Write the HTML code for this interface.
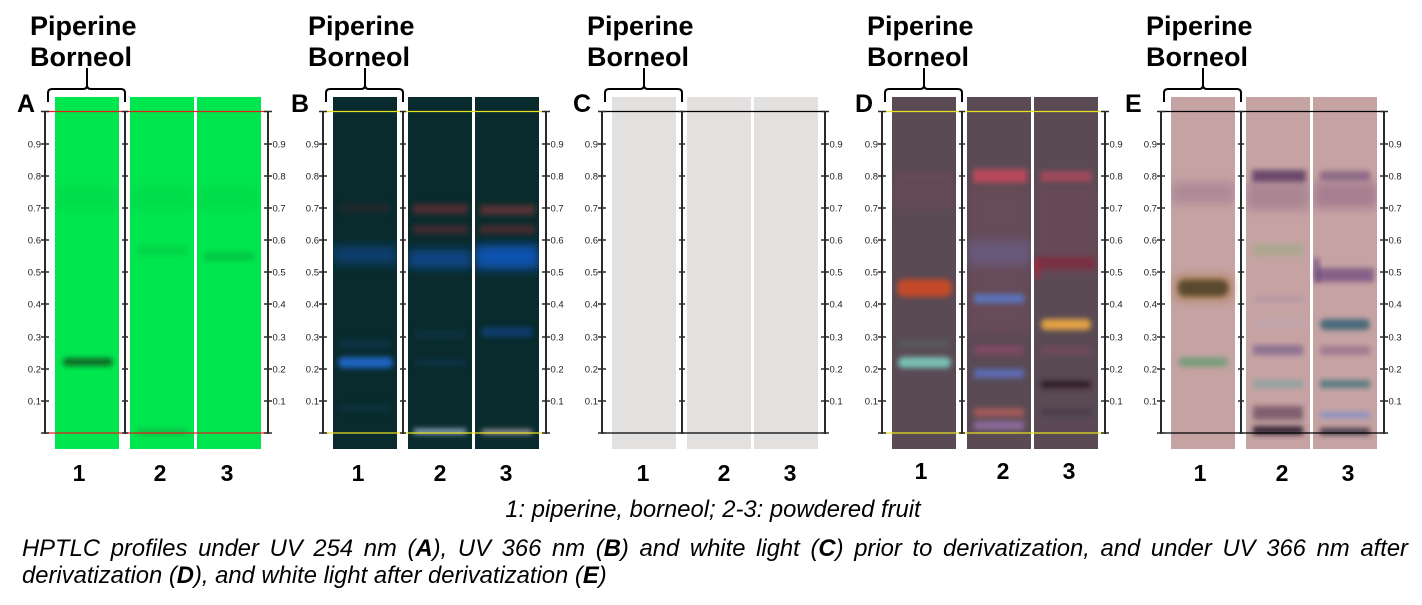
<!DOCTYPE html>
<html><head><meta charset="utf-8">
<style>
html,body{margin:0;padding:0;background:#fff;}
body{width:1422px;height:605px;position:relative;overflow:hidden;font-family:"Liberation Sans",Arial,sans-serif;}
svg{position:absolute;left:0;top:0;}
.cap{position:absolute;left:22px;width:1386px;font-style:italic;font-size:23.8px;line-height:27px;color:#000;white-space:nowrap;}
.j{text-align:justify;text-align-last:justify;white-space:normal;}
</style></head>
<body>
<svg width="1422" height="605" viewBox="0 0 1422 605" xmlns="http://www.w3.org/2000/svg" font-family="Liberation Sans, Arial, sans-serif">
<defs>
<filter id="b" x="-30%" y="-200%" width="160%" height="500%"><feGaussianBlur stdDeviation="2.6"/></filter>
<filter id="b2" x="-30%" y="-200%" width="160%" height="500%"><feGaussianBlur stdDeviation="5"/></filter>
<clipPath id="c1" clipPathUnits="userSpaceOnUse"><rect x="55" y="97" width="64" height="352"/></clipPath>
<clipPath id="c2" clipPathUnits="userSpaceOnUse"><rect x="130" y="97" width="64" height="352"/></clipPath>
<clipPath id="c3" clipPathUnits="userSpaceOnUse"><rect x="197" y="97" width="64" height="352"/></clipPath>
</defs>

<!-- ================= PANEL A ================= -->
<g>
<rect x="55" y="97" width="64" height="352" fill="#00e64e"/>
<rect x="130" y="97" width="64" height="352" fill="#00e64e"/>
<rect x="197" y="97" width="64" height="352" fill="#00e64e"/>
<rect x="55" y="186" width="64" height="24" fill="#00c845" opacity=".3" filter="url(#b2)" clip-path="url(#c1)"/>
<rect x="130" y="186" width="64" height="24" fill="#00c845" opacity=".3" filter="url(#b2)" clip-path="url(#c2)"/>
<rect x="197" y="186" width="64" height="24" fill="#00c845" opacity=".3" filter="url(#b2)" clip-path="url(#c3)"/>
<rect x="63" y="358" width="50" height="8" rx="4" fill="#086a28" filter="url(#b)"/>
<rect x="137" y="246" width="50" height="9" fill="#00c040" opacity=".45" filter="url(#b)"/>
<rect x="204" y="252" width="50" height="9" fill="#02b03c" opacity=".55" filter="url(#b)"/>
<rect x="137" y="429" width="50" height="6" fill="#1a8a3a" opacity=".45" filter="url(#b)"/>
</g>

<!-- ================= PANEL B ================= -->
<g transform="translate(278,0)">
<rect x="55" y="97" width="64" height="352" fill="#0a2b2d"/>
<rect x="130" y="97" width="64" height="352" fill="#0a2b2d"/>
<rect x="197" y="97" width="64" height="352" fill="#0a2b2d"/>
<rect x="55" y="246" width="64" height="18" fill="#0c4585" opacity=".75" filter="url(#b2)" clip-path="url(#c1)"/>
<rect x="60" y="357" width="55" height="11" rx="5" fill="#1d63c0" filter="url(#b)"/>
<rect x="62" y="340" width="50" height="8" fill="#0f3d60" opacity=".5" filter="url(#b)"/>
<rect x="62" y="204" width="50" height="8" fill="#3a2a2c" opacity=".45" filter="url(#b)"/>
<rect x="62" y="405" width="50" height="6" fill="#0f3d55" opacity=".5" filter="url(#b)"/>
<rect x="135" y="204" width="55" height="10" fill="#5a2f33" opacity=".85" filter="url(#b)"/>
<rect x="135" y="225" width="55" height="9" fill="#4a2c30" opacity=".85" filter="url(#b)"/>
<rect x="130" y="250" width="64" height="18" fill="#0a4688" filter="url(#b2)" clip-path="url(#c2)"/>
<rect x="137" y="331" width="50" height="7" fill="#0f3a5a" opacity=".5" filter="url(#b)"/>
<rect x="137" y="359" width="50" height="7" fill="#0f3a58" opacity=".5" filter="url(#b)"/>
<rect x="136" y="429" width="52" height="5" fill="#9ab4d0" filter="url(#b)"/>
<rect x="202" y="205" width="55" height="10" fill="#553034" filter="url(#b)"/>
<rect x="202" y="225" width="55" height="9" fill="#45292d" filter="url(#b)"/>
<rect x="197" y="245" width="64" height="24" fill="#0b52b0" filter="url(#b2)" clip-path="url(#c3)"/>
<rect x="204" y="327" width="50" height="10" fill="#0c3f78" opacity=".85" filter="url(#b)"/>
<rect x="204" y="430" width="50" height="4" fill="#c0b0c0" filter="url(#b)"/>
</g>

<!-- ================= PANEL C ================= -->
<g transform="translate(557,0)">
<rect x="55" y="97" width="64" height="352" fill="#e3e1df"/>
<rect x="130" y="97" width="64" height="352" fill="#e3e1df"/>
<rect x="197" y="97" width="64" height="352" fill="#e3e1df"/>
</g>

<!-- ================= PANEL D ================= -->
<g transform="translate(837,0)">
<rect x="55" y="97" width="64" height="352" fill="#594a54"/>
<rect x="130" y="97" width="64" height="352" fill="#594a54"/>
<rect x="197" y="97" width="64" height="352" fill="#594a54"/>
<rect x="55" y="182" width="64" height="26" fill="#6e4a56" opacity=".55" filter="url(#b2)" clip-path="url(#c1)"/>
<rect x="58" y="171" width="58" height="10" fill="#74485a" opacity=".45" filter="url(#b)"/>
<rect x="60" y="279" width="55" height="18" rx="8" fill="#c24a2a" filter="url(#b)"/>
<rect x="61" y="357" width="53" height="11" rx="5" fill="#78c0b4" filter="url(#b)"/>
<rect x="62" y="340" width="50" height="7" fill="#5a6c68" opacity=".5" filter="url(#b)"/>
<rect x="130" y="185" width="64" height="150" fill="#744e5c" opacity=".5" filter="url(#b2)" clip-path="url(#c2)"/>
<rect x="136" y="169" width="54" height="14" fill="#b84a5c" filter="url(#b)"/>
<rect x="130" y="240" width="64" height="26" fill="#6a6290" opacity=".6" filter="url(#b2)" clip-path="url(#c2)"/>
<rect x="137" y="294" width="50" height="9" fill="#5a74bc" filter="url(#b)"/>
<rect x="137" y="345" width="50" height="10" fill="#7e4a60" filter="url(#b)"/>
<rect x="137" y="369" width="50" height="9" fill="#5c6cb4" filter="url(#b)"/>
<rect x="137" y="408" width="50" height="9" fill="#a25a5a" filter="url(#b)"/>
<rect x="137" y="421" width="50" height="9" fill="#8a6a9a" filter="url(#b)"/>
<rect x="197" y="185" width="64" height="90" fill="#744a58" opacity=".5" filter="url(#b2)" clip-path="url(#c3)"/>
<rect x="203" y="171" width="52" height="11" fill="#a64a5c" opacity=".9" filter="url(#b)"/>
<rect x="200" y="257" width="58" height="12" fill="#7e2c3e" opacity=".85" filter="url(#b)"/>
<rect x="197" y="260" width="6" height="18" fill="#b02838" opacity=".7" filter="url(#b)" clip-path="url(#c3)"/>
<rect x="204" y="319" width="50" height="11" rx="5" fill="#e2a244" filter="url(#b)"/>
<rect x="204" y="346" width="50" height="9" fill="#704a5a" filter="url(#b)"/>
<rect x="204" y="381" width="50" height="7" fill="#2e1a26" filter="url(#b)"/>
<rect x="204" y="409" width="50" height="6" fill="#4a3a46" filter="url(#b)"/>
<rect x="204" y="422" width="50" height="6" fill="#5e4656" filter="url(#b)"/>
</g>

<!-- ================= PANEL E ================= -->
<g transform="translate(1116,0)">
<rect x="55" y="97" width="64" height="352" fill="#c6a3a3"/>
<rect x="130" y="97" width="64" height="352" fill="#c6a3a3"/>
<rect x="197" y="97" width="64" height="352" fill="#c6a3a3"/>
<rect x="55" y="182" width="64" height="22" fill="#a67e92" opacity=".7" filter="url(#b2)" clip-path="url(#c1)"/>
<rect x="60" y="276" width="55" height="24" fill="#a87848" opacity=".8" filter="url(#b2)"/>
<rect x="62" y="280" width="50" height="16" rx="7" fill="#5a4a2e" filter="url(#b)"/>
<rect x="62" y="357" width="50" height="10" rx="5" fill="#7c9c7c" filter="url(#b)"/>
<rect x="130" y="182" width="64" height="28" fill="#9e7a8c" opacity=".7" filter="url(#b2)" clip-path="url(#c2)"/>
<rect x="136" y="170" width="54" height="12" fill="#6a4a6c" filter="url(#b)"/>
<rect x="137" y="244" width="50" height="12" fill="#a8a88e" opacity=".85" filter="url(#b)"/>
<rect x="137" y="296" width="50" height="6" fill="#b898a4" filter="url(#b)"/>
<rect x="137" y="320" width="50" height="5" fill="#bca6b0" filter="url(#b)"/>
<rect x="137" y="345" width="50" height="10" fill="#8e7292" filter="url(#b)"/>
<rect x="137" y="380" width="50" height="8" fill="#94a2a2" filter="url(#b)"/>
<rect x="137" y="406" width="50" height="14" fill="#80606e" filter="url(#b)"/>
<rect x="137" y="426" width="50" height="9" fill="#3a2c3a" filter="url(#b)"/>
<rect x="197" y="182" width="64" height="26" fill="#9a6e88" opacity=".7" filter="url(#b2)" clip-path="url(#c3)"/>
<rect x="204" y="171" width="50" height="10" fill="#8e6a86" filter="url(#b)"/>
<rect x="200" y="268" width="58" height="14" fill="#7a5684" opacity=".85" filter="url(#b)"/>
<rect x="197" y="258" width="7" height="24" fill="#5a3878" opacity=".55" filter="url(#b)" clip-path="url(#c3)"/>
<rect x="204" y="319" width="50" height="11" rx="5" fill="#4a6a7a" filter="url(#b)"/>
<rect x="204" y="346" width="50" height="9" fill="#a27a92" filter="url(#b)"/>
<rect x="204" y="380" width="50" height="8" fill="#5a7c82" filter="url(#b)"/>
<rect x="204" y="412" width="50" height="6" fill="#8a92c4" filter="url(#b)"/>
<rect x="204" y="428" width="50" height="7" fill="#4a3c4c" filter="url(#b)"/>
</g>

<!-- Panel A axes -->
<g>
<line x1="46" y1="111.5" x2="268" y2="111.5" stroke="#e02020" stroke-width="1.2"/>
<line x1="46" y1="433" x2="268" y2="433" stroke="#e02020" stroke-width="1.2"/>
<g stroke="#2a2a2a" stroke-width="2"><line x1="45" y1="111" x2="45" y2="434"/><line x1="125" y1="111" x2="125" y2="434"/><line x1="268" y1="111" x2="268" y2="434"/></g>
<g stroke="#2a2a2a" stroke-width="1.5">
<path d="M41 111.5H49M41 144H49M41 176H49M41 208H49M41 240H49M41 272H49M41 304H49M41 337H49M41 369H49M41 401H49M41 433H49"/>
<path d="M122 111.5H128M122 144H128M122 176H128M122 208H128M122 240H128M122 272H128M122 304H128M122 337H128M122 369H128M122 401H128M122 433H128"/>
<path d="M264 111.5H272M264 144H272M264 176H272M264 208H272M264 240H272M264 272H272M264 304H272M264 337H272M264 369H272M264 401H272M264 433H272"/>
</g>
<g font-size="9.5" fill="#222" text-anchor="end">
<text x="41" y="147.5">0.9</text><text x="41" y="179.5">0.8</text><text x="41" y="211.5">0.7</text><text x="41" y="243.5">0.6</text><text x="41" y="275.5">0.5</text><text x="41" y="307.5">0.4</text><text x="41" y="340.5">0.3</text><text x="41" y="372.5">0.2</text><text x="41" y="404.5">0.1</text>
</g>
<g font-size="9.5" fill="#222">
<text x="272.5" y="147.5">0.9</text><text x="272.5" y="179.5">0.8</text><text x="272.5" y="211.5">0.7</text><text x="272.5" y="243.5">0.6</text><text x="272.5" y="275.5">0.5</text><text x="272.5" y="307.5">0.4</text><text x="272.5" y="340.5">0.3</text><text x="272.5" y="372.5">0.2</text><text x="272.5" y="404.5">0.1</text>
</g>
<path d="M48 102V93Q48 89 52 89H83Q87 89 87 85V68M87 85Q87 89 91 89H121Q125 89 125 93V102" stroke="#000" stroke-width="2" fill="none"/>
<g font-weight="bold" font-size="27" fill="#000"><text x="30" y="35">Piperine</text><text x="30" y="66">Borneol</text></g>
<g font-weight="bold" font-size="23" text-anchor="middle"><text x="79" y="481">1</text><text x="160" y="481">2</text><text x="227" y="481">3</text></g>
</g>

<!-- Panel B axes -->
<g transform="translate(278,0)">
<line x1="46" y1="111.5" x2="268" y2="111.5" stroke="#e8e020" stroke-width="1.3"/>
<line x1="46" y1="433" x2="268" y2="433" stroke="#e8e020" stroke-width="1.3"/>
<g stroke="#2a2a2a" stroke-width="2"><line x1="45" y1="111" x2="45" y2="434"/><line x1="125" y1="111" x2="125" y2="434"/><line x1="268" y1="111" x2="268" y2="434"/></g>
<g stroke="#2a2a2a" stroke-width="1.5">
<path d="M41 111.5H49M41 144H49M41 176H49M41 208H49M41 240H49M41 272H49M41 304H49M41 337H49M41 369H49M41 401H49M41 433H49"/>
<path d="M122 111.5H128M122 144H128M122 176H128M122 208H128M122 240H128M122 272H128M122 304H128M122 337H128M122 369H128M122 401H128M122 433H128"/>
<path d="M264 111.5H272M264 144H272M264 176H272M264 208H272M264 240H272M264 272H272M264 304H272M264 337H272M264 369H272M264 401H272M264 433H272"/>
</g>
<g font-size="9.5" fill="#222" text-anchor="end">
<text x="41" y="147.5">0.9</text><text x="41" y="179.5">0.8</text><text x="41" y="211.5">0.7</text><text x="41" y="243.5">0.6</text><text x="41" y="275.5">0.5</text><text x="41" y="307.5">0.4</text><text x="41" y="340.5">0.3</text><text x="41" y="372.5">0.2</text><text x="41" y="404.5">0.1</text>
</g>
<g font-size="9.5" fill="#222">
<text x="272.5" y="147.5">0.9</text><text x="272.5" y="179.5">0.8</text><text x="272.5" y="211.5">0.7</text><text x="272.5" y="243.5">0.6</text><text x="272.5" y="275.5">0.5</text><text x="272.5" y="307.5">0.4</text><text x="272.5" y="340.5">0.3</text><text x="272.5" y="372.5">0.2</text><text x="272.5" y="404.5">0.1</text>
</g>
<path d="M48 102V93Q48 89 52 89H83Q87 89 87 85V68M87 85Q87 89 91 89H121Q125 89 125 93V102" stroke="#000" stroke-width="2" fill="none"/>
<g font-weight="bold" font-size="27" fill="#000"><text x="30" y="35">Piperine</text><text x="30" y="66">Borneol</text></g>
<g font-weight="bold" font-size="23" text-anchor="middle"><text x="80" y="481">1</text><text x="162" y="481">2</text><text x="228" y="481">3</text></g>
</g>

<!-- Panel C axes -->
<g transform="translate(557,0)">
<line x1="46" y1="111.5" x2="268" y2="111.5" stroke="#000" stroke-width="1.2"/>
<line x1="46" y1="433" x2="268" y2="433" stroke="#000" stroke-width="1.2"/>
<g stroke="#2a2a2a" stroke-width="2"><line x1="45" y1="111" x2="45" y2="434"/><line x1="125" y1="111" x2="125" y2="434"/><line x1="268" y1="111" x2="268" y2="434"/></g>
<g stroke="#2a2a2a" stroke-width="1.5">
<path d="M41 111.5H49M41 144H49M41 176H49M41 208H49M41 240H49M41 272H49M41 304H49M41 337H49M41 369H49M41 401H49M41 433H49"/>
<path d="M122 111.5H128M122 144H128M122 176H128M122 208H128M122 240H128M122 272H128M122 304H128M122 337H128M122 369H128M122 401H128M122 433H128"/>
<path d="M264 111.5H272M264 144H272M264 176H272M264 208H272M264 240H272M264 272H272M264 304H272M264 337H272M264 369H272M264 401H272M264 433H272"/>
</g>
<g font-size="9.5" fill="#222" text-anchor="end">
<text x="41" y="147.5">0.9</text><text x="41" y="179.5">0.8</text><text x="41" y="211.5">0.7</text><text x="41" y="243.5">0.6</text><text x="41" y="275.5">0.5</text><text x="41" y="307.5">0.4</text><text x="41" y="340.5">0.3</text><text x="41" y="372.5">0.2</text><text x="41" y="404.5">0.1</text>
</g>
<g font-size="9.5" fill="#222">
<text x="272.5" y="147.5">0.9</text><text x="272.5" y="179.5">0.8</text><text x="272.5" y="211.5">0.7</text><text x="272.5" y="243.5">0.6</text><text x="272.5" y="275.5">0.5</text><text x="272.5" y="307.5">0.4</text><text x="272.5" y="340.5">0.3</text><text x="272.5" y="372.5">0.2</text><text x="272.5" y="404.5">0.1</text>
</g>
<path d="M48 102V93Q48 89 52 89H83Q87 89 87 85V68M87 85Q87 89 91 89H121Q125 89 125 93V102" stroke="#000" stroke-width="2" fill="none"/>
<g font-weight="bold" font-size="27" fill="#000"><text x="30" y="35">Piperine</text><text x="30" y="66">Borneol</text></g>
<g font-weight="bold" font-size="23" text-anchor="middle"><text x="86" y="481">1</text><text x="167" y="481">2</text><text x="233" y="481">3</text></g>
</g>

<!-- Panel D axes -->
<g transform="translate(837,0)">
<line x1="46" y1="111.5" x2="268" y2="111.5" stroke="#e8e020" stroke-width="1.3"/>
<line x1="46" y1="433" x2="268" y2="433" stroke="#e8e020" stroke-width="1.3"/>
<g stroke="#2a2a2a" stroke-width="2"><line x1="45" y1="111" x2="45" y2="434"/><line x1="125" y1="111" x2="125" y2="434"/><line x1="268" y1="111" x2="268" y2="434"/></g>
<g stroke="#2a2a2a" stroke-width="1.5">
<path d="M41 111.5H49M41 144H49M41 176H49M41 208H49M41 240H49M41 272H49M41 304H49M41 337H49M41 369H49M41 401H49M41 433H49"/>
<path d="M122 111.5H128M122 144H128M122 176H128M122 208H128M122 240H128M122 272H128M122 304H128M122 337H128M122 369H128M122 401H128M122 433H128"/>
<path d="M264 111.5H272M264 144H272M264 176H272M264 208H272M264 240H272M264 272H272M264 304H272M264 337H272M264 369H272M264 401H272M264 433H272"/>
</g>
<g font-size="9.5" fill="#222" text-anchor="end">
<text x="41" y="147.5">0.9</text><text x="41" y="179.5">0.8</text><text x="41" y="211.5">0.7</text><text x="41" y="243.5">0.6</text><text x="41" y="275.5">0.5</text><text x="41" y="307.5">0.4</text><text x="41" y="340.5">0.3</text><text x="41" y="372.5">0.2</text><text x="41" y="404.5">0.1</text>
</g>
<g font-size="9.5" fill="#222">
<text x="272.5" y="147.5">0.9</text><text x="272.5" y="179.5">0.8</text><text x="272.5" y="211.5">0.7</text><text x="272.5" y="243.5">0.6</text><text x="272.5" y="275.5">0.5</text><text x="272.5" y="307.5">0.4</text><text x="272.5" y="340.5">0.3</text><text x="272.5" y="372.5">0.2</text><text x="272.5" y="404.5">0.1</text>
</g>
<path d="M48 102V93Q48 89 52 89H83Q87 89 87 85V68M87 85Q87 89 91 89H121Q125 89 125 93V102" stroke="#000" stroke-width="2" fill="none"/>
<g font-weight="bold" font-size="27" fill="#000"><text x="30" y="35">Piperine</text><text x="30" y="66">Borneol</text></g>
<g font-weight="bold" font-size="23" text-anchor="middle"><text x="84" y="479">1</text><text x="166" y="479">2</text><text x="232" y="479">3</text></g>
</g>

<!-- Panel E axes -->
<g transform="translate(1116,0)">
<line x1="46" y1="111.5" x2="268" y2="111.5" stroke="#000" stroke-width="1.2"/>
<line x1="46" y1="433" x2="268" y2="433" stroke="#000" stroke-width="1.2"/>
<g stroke="#2a2a2a" stroke-width="2"><line x1="45" y1="111" x2="45" y2="434"/><line x1="125" y1="111" x2="125" y2="434"/><line x1="268" y1="111" x2="268" y2="434"/></g>
<g stroke="#2a2a2a" stroke-width="1.5">
<path d="M41 111.5H49M41 144H49M41 176H49M41 208H49M41 240H49M41 272H49M41 304H49M41 337H49M41 369H49M41 401H49M41 433H49"/>
<path d="M122 111.5H128M122 144H128M122 176H128M122 208H128M122 240H128M122 272H128M122 304H128M122 337H128M122 369H128M122 401H128M122 433H128"/>
<path d="M264 111.5H272M264 144H272M264 176H272M264 208H272M264 240H272M264 272H272M264 304H272M264 337H272M264 369H272M264 401H272M264 433H272"/>
</g>
<g font-size="9.5" fill="#222" text-anchor="end">
<text x="41" y="147.5">0.9</text><text x="41" y="179.5">0.8</text><text x="41" y="211.5">0.7</text><text x="41" y="243.5">0.6</text><text x="41" y="275.5">0.5</text><text x="41" y="307.5">0.4</text><text x="41" y="340.5">0.3</text><text x="41" y="372.5">0.2</text><text x="41" y="404.5">0.1</text>
</g>
<g font-size="9.5" fill="#222">
<text x="272.5" y="147.5">0.9</text><text x="272.5" y="179.5">0.8</text><text x="272.5" y="211.5">0.7</text><text x="272.5" y="243.5">0.6</text><text x="272.5" y="275.5">0.5</text><text x="272.5" y="307.5">0.4</text><text x="272.5" y="340.5">0.3</text><text x="272.5" y="372.5">0.2</text><text x="272.5" y="404.5">0.1</text>
</g>
<path d="M48 102V93Q48 89 52 89H83Q87 89 87 85V68M87 85Q87 89 91 89H121Q125 89 125 93V102" stroke="#000" stroke-width="2" fill="none"/>
<g font-weight="bold" font-size="27" fill="#000"><text x="30" y="35">Piperine</text><text x="30" y="66">Borneol</text></g>
<g font-weight="bold" font-size="23" text-anchor="middle"><text x="84" y="481">1</text><text x="166" y="481">2</text><text x="232" y="481">3</text></g>
</g>

<!-- Panel letters -->
<g font-weight="bold" font-size="25" fill="#000">
<text x="17" y="112">A</text>
<text x="291" y="112">B</text>
<text x="573" y="112">C</text>
<text x="855" y="112">D</text>
<text x="1125" y="112">E</text>
</g>

<text x="713" y="517" font-size="23.8" font-style="italic" text-anchor="middle" fill="#000">1: piperine, borneol; 2-3: powdered fruit</text>
</svg>

<div class="cap j" style="top:535px;">HPTLC profiles under UV 254 nm (<b>A</b>), UV 366 nm (<b>B</b>) and white light (<b>C</b>) prior to derivatization, and under UV 366 nm after</div>
<div class="cap" style="top:562px;">derivatization (<b>D</b>), and white light after derivatization (<b>E</b>)</div>
</body></html>
